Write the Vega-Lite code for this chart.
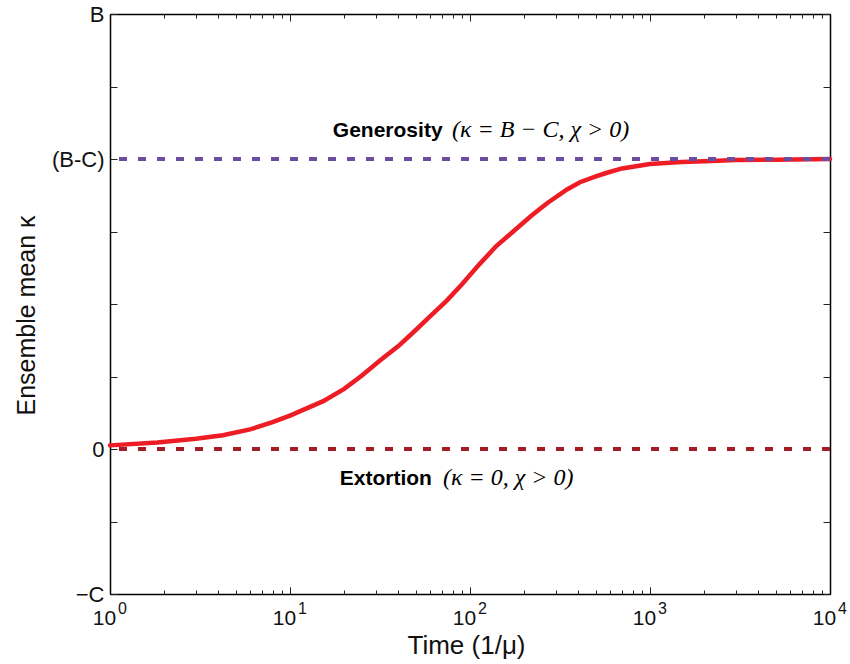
{
  "$schema": "https://vega.github.io/schema/vega-lite/v6.json",
  "width": 720,
  "height": 580,
  "autosize": {"type": "none"},
  "padding": {"left": 110, "top": 14, "right": 20, "bottom": 70},
  "background": "white",
  "config": {
    "view": {"stroke": null},
    "font": "Liberation Sans",
    "axis": {
      "grid": false,
      "domainColor": "#000000",
      "domainWidth": 1.5,
      "tickColor": "#222222",
      "tickWidth": 1,
      "labelColor": "#111111",
      "titleColor": "#111111",
      "labelFont": "Liberation Sans",
      "titleFont": "Liberation Sans",
      "titleFontWeight": "normal"
    }
  },
  "datasets": {
    "curve": [
      {"t": 1, "k": 0.05},
      {"t": 1.83, "k": 0.09},
      {"t": 3, "k": 0.14},
      {"t": 4.24, "k": 0.19},
      {"t": 6, "k": 0.27},
      {"t": 8, "k": 0.37},
      {"t": 10, "k": 0.46},
      {"t": 15.3, "k": 0.66},
      {"t": 20, "k": 0.83},
      {"t": 25, "k": 1.01},
      {"t": 31.6, "k": 1.22},
      {"t": 40, "k": 1.42},
      {"t": 48, "k": 1.6},
      {"t": 60, "k": 1.83},
      {"t": 74.5, "k": 2.05},
      {"t": 90, "k": 2.27},
      {"t": 113, "k": 2.55},
      {"t": 140, "k": 2.8},
      {"t": 170, "k": 2.98},
      {"t": 220, "k": 3.22},
      {"t": 268, "k": 3.39},
      {"t": 346, "k": 3.58},
      {"t": 408, "k": 3.68},
      {"t": 500, "k": 3.76},
      {"t": 577, "k": 3.81},
      {"t": 700, "k": 3.87},
      {"t": 1000, "k": 3.93},
      {"t": 1500, "k": 3.96},
      {"t": 2000, "k": 3.97},
      {"t": 3000, "k": 3.985},
      {"t": 5000, "k": 3.99},
      {"t": 10000, "k": 4.0}
    ],
    "levels": [
      {"level": 4, "strategy": "Generosity"},
      {"level": 0, "strategy": "Extortion"}
    ],
    "notes": [
      {"t1": 17.3, "t2": 79.4, "k": 4.3, "name": "Generosity", "math": "(κ = B − C,  χ > 0)"},
      {"t1": 18.9, "t2": 70.8, "k": -0.5, "name": "Extortion", "math": "(κ = 0,  χ > 0)"}
    ]
  },
  "layer": [
    {
      "data": {"name": "curve"},
      "mark": {"type": "line", "color": "#ee1c25", "strokeWidth": 4.5, "strokeCap": "round"},
      "encoding": {
        "x": {
          "field": "t", "type": "quantitative",
          "scale": {"type": "log", "domain": [1, 10000], "nice": false},
          "axis": {
            "orient": "bottom",
            "values": [1, 10, 100, 1000, 10000],
            "labelExpr": "'10'",
            "labelFontSize": 21,
            "labelOffset": -6,
            "labelPadding": 20,
            "labelFlush": false,
            "labelOverlap": false,
            "tickSize": -7,
            "title": "Time (1/μ)",
            "titleFontSize": 26,
            "titleX": 356,
            "titleY": 59,
            "titleBaseline": "alphabetic",
            "titleAlign": "center"
          }
        },
        "y": {
          "field": "k", "type": "quantitative",
          "scale": {"domain": [-2, 6], "nice": false, "zero": false},
          "axis": {
            "orient": "left",
            "values": [-2, -1, 0, 1, 2, 3, 4, 5, 6],
            "labelExpr": "datum.value == 6 ? 'B' : datum.value == 4 ? '(B-C)' : datum.value == 0 ? '0' : datum.value == -2 ? '−C' : ''",
            "labelFontSize": 22,
            "labelPadding": 13,
            "labelFlush": false,
            "labelOverlap": false,
            "tickSize": -7,
            "title": "Ensemble mean κ",
            "titleFontSize": 25,
            "titleAngle": -90,
            "titleX": -84,
            "titleY": 301,
            "titleAlign": "center",
            "titleBaseline": "middle"
          }
        }
      }
    },
    {
      "data": {"name": "curve"},
      "mark": {"type": "line", "opacity": 0},
      "encoding": {
        "x": {
          "field": "t", "type": "quantitative",
          "scale": {"type": "log", "domain": [1, 10000], "nice": false},
          "axis": {
            "orient": "bottom",
            "values": [1, 10, 100, 1000, 10000],
            "labelExpr": "'' + round(log(datum.value) / LN10)",
            "labelFontSize": 16,
            "labelOffset": 12,
            "labelPadding": 13,
            "labelFlush": false,
            "labelOverlap": false,
            "tickSize": -7,
            "domain": false,
            "title": null
          }
        },
        "y": {
          "field": "k", "type": "quantitative",
          "scale": {"domain": [-2, 6], "nice": false, "zero": false},
          "axis": {
            "orient": "right",
            "values": [-2, -1, 0, 1, 2, 3, 4, 5, 6],
            "labels": false,
            "tickSize": -7,
            "title": null
          }
        }
      }
    },
    {
      "data": {"name": "curve"},
      "mark": {"type": "line", "opacity": 0},
      "encoding": {
        "x": {
          "field": "t", "type": "quantitative",
          "scale": {"type": "log", "domain": [1, 10000], "nice": false},
          "axis": {
            "orient": "bottom",
            "values": [2, 3, 4, 5, 6, 7, 8, 9, 20, 30, 40, 50, 60, 70, 80, 90, 200, 300, 400, 500, 600, 700, 800, 900, 2000, 3000, 4000, 5000, 6000, 7000, 8000, 9000],
            "labels": false,
            "tickSize": -4,
            "domain": false,
            "title": null
          }
        },
        "y": {
          "field": "k", "type": "quantitative",
          "scale": {"domain": [-2, 6], "nice": false, "zero": false},
          "axis": null
        }
      }
    },
    {
      "data": {"name": "curve"},
      "mark": {"type": "line", "opacity": 0},
      "encoding": {
        "x": {
          "field": "t", "type": "quantitative",
          "scale": {"type": "log", "domain": [1, 10000], "nice": false},
          "axis": {
            "orient": "top",
            "values": [1, 10, 100, 1000, 10000],
            "labels": false,
            "tickSize": -7,
            "title": null
          }
        },
        "y": {
          "field": "k", "type": "quantitative",
          "scale": {"domain": [-2, 6], "nice": false, "zero": false},
          "axis": null
        }
      }
    },
    {
      "data": {"name": "curve"},
      "mark": {"type": "line", "opacity": 0},
      "encoding": {
        "x": {
          "field": "t", "type": "quantitative",
          "scale": {"type": "log", "domain": [1, 10000], "nice": false},
          "axis": {
            "orient": "top",
            "values": [2, 3, 4, 5, 6, 7, 8, 9, 20, 30, 40, 50, 60, 70, 80, 90, 200, 300, 400, 500, 600, 700, 800, 900, 2000, 3000, 4000, 5000, 6000, 7000, 8000, 9000],
            "labels": false,
            "tickSize": -4,
            "domain": false,
            "title": null
          }
        },
        "y": {
          "field": "k", "type": "quantitative",
          "scale": {"domain": [-2, 6], "nice": false, "zero": false},
          "axis": null
        }
      }
    },
    {
      "data": {"name": "levels"},
      "mark": {"type": "rule", "strokeWidth": 4, "strokeDash": [8, 11]},
      "encoding": {
        "y": {
          "field": "level", "type": "quantitative",
          "scale": {"domain": [-2, 6], "nice": false, "zero": false},
          "axis": null
        },
        "color": {
          "field": "strategy", "type": "nominal",
          "scale": {"domain": ["Generosity", "Extortion"], "range": ["#6a4ca0", "#a51d24"]},
          "legend": null
        }
      }
    },
    {
      "data": {"name": "notes"},
      "mark": {"type": "text", "align": "left", "baseline": "alphabetic", "font": "Liberation Sans", "fontWeight": "bold", "fontSize": 21, "color": "#000000"},
      "encoding": {
        "x": {"field": "t1", "type": "quantitative", "scale": {"type": "log", "domain": [1, 10000], "nice": false}, "axis": null},
        "y": {"field": "k", "type": "quantitative", "scale": {"domain": [-2, 6], "nice": false, "zero": false}, "axis": null},
        "text": {"field": "name"}
      }
    },
    {
      "data": {"name": "notes"},
      "mark": {"type": "text", "align": "left", "baseline": "alphabetic", "font": "Liberation Serif", "fontStyle": "italic", "fontSize": 24, "color": "#000000"},
      "encoding": {
        "x": {"field": "t2", "type": "quantitative", "scale": {"type": "log", "domain": [1, 10000], "nice": false}, "axis": null},
        "y": {"field": "k", "type": "quantitative", "scale": {"domain": [-2, 6], "nice": false, "zero": false}, "axis": null},
        "text": {"field": "math"}
      }
    }
  ],
  "resolve": {"axis": {"x": "independent", "y": "independent"}}
}
